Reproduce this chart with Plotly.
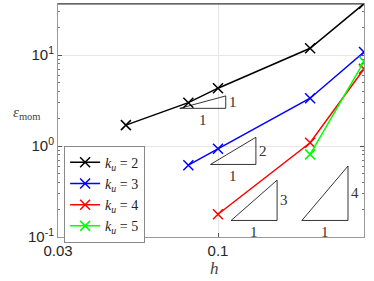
import plotly.graph_objects as go
import math

h2 = [0.05, 0.08, 0.1, 0.2, 0.3]
e2 = [1.70, 3.0, 4.33, 11.9, 36.8]
h3 = [0.08, 0.1, 0.2, 0.3]
e3 = [0.616, 0.933, 3.36, 10.8]
h4 = [0.1, 0.2, 0.3]
e4 = [0.178, 1.086, 7.06]
h5 = [0.2, 0.3]
e5 = [0.81, 8.5]

series = [
    ("<i>k<sub>u</sub></i> = 2", h2, e2, "black"),
    ("<i>k<sub>u</sub></i> = 3", h3, e3, "blue"),
    ("<i>k<sub>u</sub></i> = 4", h4, e4, "red"),
    ("<i>k<sub>u</sub></i> = 5", h5, e5, "#00ff00"),
]

# slope triangles: (x0, x1, y0, y1, slope label)
tri_x0 = [0.075, 0.0945, 0.1104, 0.188]
tri_x1 = [0.106, 0.133, 0.156, 0.266]
tri_y0 = [2.6, 0.628, 0.152, 0.152]
tri_y1 = [3.56, 1.25, 0.422, 0.603]
tri_lab = ["1", "2", "3", "4"]

xticks = [0.03, 0.1, 0.3]
xticktext = ["0.03", "0.1", "0.3"]
yticks = [0.1, 1, 10]
yticktext = ["10<sup>-1</sup>", "10<sup>0</sup>", "10<sup>1</sup>"]
yminor = [0.2, 0.3, 0.4, 0.5, 0.6, 0.7, 0.8, 0.9, 2, 3, 4, 5, 6, 7, 8, 9, 20, 30]

fig = go.Figure()
for name, x, y, c in series:
    fig.add_trace(go.Scatter(
        x=x, y=y, name=name, mode="lines+markers",
        line=dict(color=c, width=1.5),
        marker=dict(symbol="x-thin", size=10, line=dict(color=c, width=1.5), color=c),
    ))

for x0, x1, y0, y1, lab in zip(tri_x0, tri_x1, tri_y0, tri_y1, tri_lab):
    fig.add_trace(go.Scatter(
        x=[x0, x1, x1, x0], y=[y0, y0, y1, y0], mode="lines",
        line=dict(color="black", width=0.8), showlegend=False, hoverinfo="skip",
    ))
    xm = 10 ** ((math.log10(x0) + math.log10(x1)) / 2)
    ym = 10 ** ((math.log10(y0) + math.log10(y1)) / 2)
    fig.add_annotation(x=math.log10(x1), y=math.log10(ym), text=lab, showarrow=False,
                       xanchor="left", xshift=1, font=dict(family="Liberation Serif", size=15, color="#333"))
    fig.add_annotation(x=math.log10(xm), y=math.log10(y0), text="1", showarrow=False,
                       yanchor="top", yshift=-2, font=dict(family="Liberation Serif", size=15, color="#333"))

axcol = "#999999"
fig.update_xaxes(type="log", range=[math.log10(0.03), math.log10(0.3)],
                 tickvals=xticks, ticktext=xticktext, ticks="inside", ticklen=4,
                 tickcolor="#555", showgrid=True, gridcolor="#e6e6e6", gridwidth=1,
                 showline=True, linecolor=axcol, linewidth=1, mirror=True, zeroline=False,
                 tickfont=dict(family="Liberation Sans", size=15, color="#262626"))
fig.update_yaxes(type="log", range=[-1, math.log10(36.5)],
                 tickvals=yticks, ticktext=yticktext, ticks="inside", ticklen=4,
                 tickcolor="#555", showgrid=True, gridcolor="#e6e6e6", gridwidth=1,
                 showline=True, linecolor=axcol, linewidth=1, mirror="ticks", zeroline=False,
                 minor=dict(tickvals=yminor, ticks="inside", ticklen=2, tickcolor="#777", showgrid=False),
                 tickfont=dict(family="Liberation Sans", size=15, color="#262626"))

fig.add_shape(type="line", xref="paper", yref="paper", x0=0, x1=1, y0=1, y1=1,
              line=dict(color="#333", width=1))

fig.add_annotation(xref="paper", yref="paper", x=0, y=0.532, showarrow=False,
                   xanchor="right", xshift=-15,
                   text="<i>ε</i><sub>mom</sub>", font=dict(family="Liberation Serif", size=15, color="#444"))
fig.add_annotation(xref="paper", yref="paper", x=0.513, y=-0.185, showarrow=False,
                   text="<i>h</i>", font=dict(family="Liberation Serif", size=17, color="#444"))

fig.update_layout(
    width=374, height=281, margin=dict(l=58, r=10, t=4, b=44),
    plot_bgcolor="white", paper_bgcolor="white",
    legend=dict(x=0.02, y=0.392, xanchor="left", yanchor="top",
                bordercolor="#888", borderwidth=1, bgcolor="white",
                font=dict(family="Liberation Serif", size=14, color="#222"),
                itemwidth=30, tracegroupgap=0),
    showlegend=True,
)
fig.write_html("out.html", config={"displayModeBar": False},
               post_script="document.body.style.margin='0';document.body.style.padding='0';")
